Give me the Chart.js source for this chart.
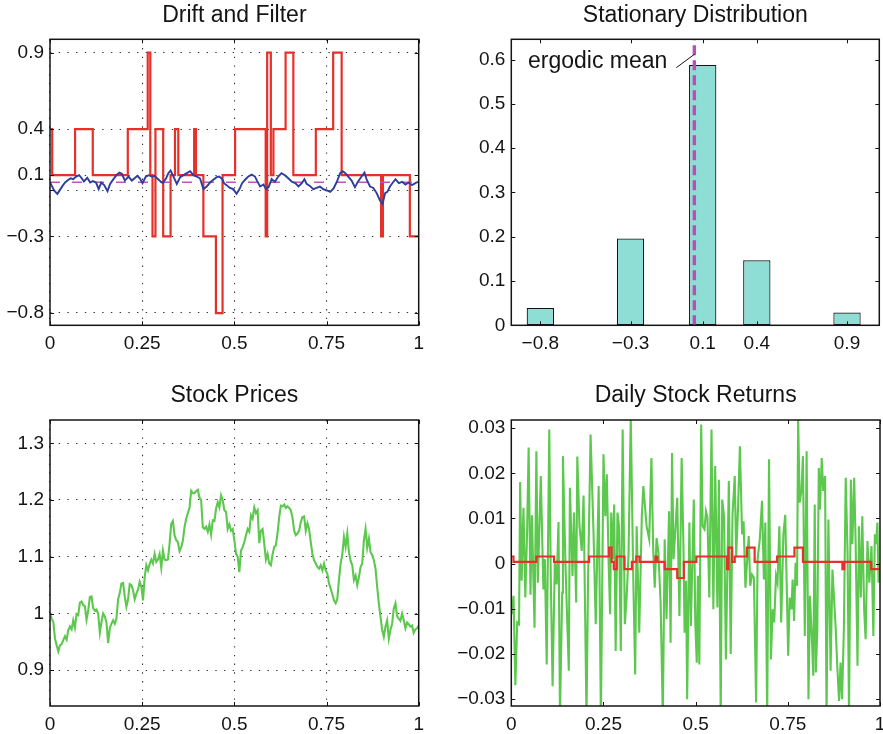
<!DOCTYPE html>
<html>
<head>
<meta charset="utf-8">
<script src="https://cdn.jsdelivr.net/npm/chart.js@4.4.0/dist/chart.umd.min.js"></script>
<style>
  html, body { margin: 0; padding: 0; background: #fff; }
  #fig { position: relative; width: 883px; height: 734px; overflow: hidden; background: #fff; }
  #fig canvas { position: absolute; }
</style>
</head>
<body>
<div id="fig">
  <canvas id="cDrift" width="440" height="367" style="left:0px;top:0px"></canvas>
  <canvas id="cDist" width="443" height="367" style="left:440px;top:0px"></canvas>
  <canvas id="cPrice" width="440" height="367" style="left:0px;top:367px"></canvas>
  <canvas id="cRet" width="443" height="367" style="left:440px;top:367px"></canvas>
</div>
<script>
// ---- Markov-switching drift: states and stationary probabilities ----
const driftStates = [-0.8, -0.3, 0.1, 0.4, 0.9];
const stationaryProb = [0.039, 0.196, 0.588, 0.147, 0.029];

// Regime path: time of each switch and the drift held from that time on
const driftTimes  = [0, 0.006, 0.068, 0.116, 0.211, 0.265, 0.272, 0.278, 0.286, 0.307, 0.327, 0.339, 0.348, 0.391, 0.396, 0.416, 0.450, 0.468, 0.502, 0.585, 0.589, 0.599, 0.606, 0.639, 0.660, 0.721, 0.768, 0.791, 0.898, 0.903, 0.976, 1];
const driftValues = [0.4, 0.1, 0.4, 0.1, 0.4, 0.9, 0.1, -0.3, 0.4, -0.3, 0.1, 0.4, 0.1, 0.4, 0.1, -0.3, -0.8, 0.1, 0.4, -0.3, 0.9, 0.1, 0.4, 0.9, 0.1, 0.4, 0.9, 0.1, -0.3, 0.1, -0.3, -0.3];

// Filtered drift estimate
const filterTimes = [0, 0.005, 0.011, 0.020, 0.027, 0.034, 0.041, 0.050, 0.056, 0.063,
  0.071, 0.079, 0.086, 0.092, 0.101, 0.109, 0.116, 0.125, 0.132, 0.139,
  0.147, 0.156, 0.163, 0.172, 0.181, 0.188, 0.195, 0.203, 0.213, 0.222,
  0.231, 0.237, 0.244, 0.251, 0.260, 0.268, 0.276, 0.283, 0.289, 0.297,
  0.306, 0.315, 0.321, 0.327, 0.335, 0.344, 0.353, 0.362, 0.371, 0.380,
  0.389, 0.398, 0.407, 0.416, 0.425, 0.434, 0.443, 0.452, 0.459, 0.467,
  0.472, 0.479, 0.488, 0.497, 0.506, 0.514, 0.521, 0.529, 0.538, 0.547,
  0.556, 0.562, 0.570, 0.579, 0.586, 0.593, 0.601, 0.610, 0.619, 0.628,
  0.637, 0.647, 0.656, 0.665, 0.674, 0.683, 0.690, 0.696, 0.705, 0.714,
  0.723, 0.732, 0.741, 0.751, 0.760, 0.769, 0.778, 0.787, 0.794, 0.801,
  0.809, 0.818, 0.827, 0.836, 0.845, 0.853, 0.859, 0.868, 0.877, 0.886,
  0.895, 0.902, 0.909, 0.915, 0.922, 0.930, 0.937, 0.946, 0.955, 0.964,
  0.973, 0.982, 0.991, 0.998];
const filterValues = [0.052, 0.030, 0.000, -0.022, 0.004, 0.030, 0.052, 0.070, 0.080, 0.074,
  0.091, 0.100, 0.080, 0.059, 0.083, 0.052, 0.061, 0.052, 0.009, 0.052,
  0.035, -0.004, 0.043, 0.074, 0.102, 0.117, 0.109, 0.065, 0.091, 0.065,
  0.083, 0.096, 0.078, 0.048, 0.091, 0.100, 0.091, 0.096, 0.083, 0.065,
  0.048, 0.080, 0.113, 0.130, 0.091, 0.043, 0.087, 0.100, 0.113, 0.126,
  0.100, 0.091, 0.078, 0.009, 0.026, 0.052, 0.070, 0.087, 0.091, 0.074,
  0.048, 0.035, 0.017, 0.009, -0.022, 0.009, 0.048, 0.070, 0.091, 0.104,
  0.091, 0.061, 0.026, 0.039, 0.009, 0.022, 0.074, 0.057, 0.091, 0.113,
  0.100, 0.078, 0.057, 0.048, 0.026, 0.048, 0.074, 0.043, 0.030, 0.009,
  0.017, 0.026, 0.009, 0.000, -0.009, 0.013, 0.057, 0.113, 0.126, 0.113,
  0.091, 0.065, 0.022, 0.061, 0.091, 0.117, 0.070, 0.026, 0.017, -0.017,
  -0.065, -0.087, -0.017, -0.009, 0.026, 0.052, 0.074, 0.048, 0.057, 0.039,
  0.052, 0.035, 0.048, 0.057];

// Stock price path (equally spaced in time over [0, 1])
const stockPrices = [1.000, 0.991, 0.985, 0.956, 0.944, 0.933, 0.944, 0.946, 0.953, 0.960,
  0.954, 0.971, 0.977, 0.972, 0.988, 0.975, 0.999, 0.997, 1.019, 1.021,
  1.015, 1.013, 0.989, 1.005, 1.029, 1.030, 1.009, 1.005, 1.007, 1.000,
  0.966, 0.985, 1.000, 0.995, 0.984, 0.948, 0.974, 0.982, 0.988, 0.982,
  0.991, 1.025, 1.036, 1.053, 1.054, 1.030, 1.012, 1.025, 1.052, 1.050,
  1.041, 1.025, 1.035, 1.042, 1.056, 1.047, 1.023, 1.064, 1.085, 1.076,
  1.087, 1.095, 1.088, 1.105, 1.091, 1.095, 1.105, 1.081, 1.111, 1.095,
  1.094, 1.095, 1.123, 1.158, 1.163, 1.138, 1.129, 1.126, 1.110, 1.117,
  1.128, 1.152, 1.167, 1.177, 1.186, 1.216, 1.212, 1.212, 1.216, 1.218,
  1.204, 1.200, 1.152, 1.149, 1.153, 1.144, 1.157, 1.139, 1.164, 1.163,
  1.185, 1.196, 1.187, 1.208, 1.199, 1.182, 1.179, 1.149, 1.157, 1.146,
  1.149, 1.129, 1.105, 1.100, 1.073, 1.111, 1.117, 1.126, 1.138, 1.149,
  1.144, 1.173, 1.167, 1.187, 1.177, 1.182, 1.124, 1.146, 1.149, 1.123,
  1.095, 1.105, 1.088, 1.085, 1.104, 1.117, 1.120, 1.141, 1.170, 1.190,
  1.189, 1.192, 1.186, 1.189, 1.186, 1.182, 1.169, 1.146, 1.138, 1.141,
  1.146, 1.161, 1.170, 1.171, 1.146, 1.159, 1.149, 1.126, 1.105, 1.094,
  1.088, 1.082, 1.079, 1.085, 1.076, 1.088, 1.076, 1.070, 1.053, 1.044,
  1.034, 1.023, 1.018, 1.026, 1.060, 1.088, 1.104, 1.135, 1.118, 1.141,
  1.108, 1.093, 1.085, 1.059, 1.067, 1.050, 1.064, 1.082, 1.088, 1.129,
  1.149, 1.116, 1.132, 1.108, 1.103, 1.094, 1.079, 1.047, 1.018, 0.994,
  0.971, 0.959, 0.977, 0.988, 0.956, 0.971, 0.982, 1.009, 1.018, 0.995,
  0.991, 0.987, 1.000, 0.988, 0.974, 0.984, 0.981, 0.977, 0.979, 0.966,
  0.972, 0.974, 0.979];

// Daily returns
const returnTimes = [0.002, 0.006, 0.011, 0.016, 0.021, 0.024, 0.028, 0.033, 0.038, 0.043,
  0.047, 0.052, 0.056, 0.063, 0.068, 0.072, 0.080, 0.087, 0.091, 0.096,
  0.103, 0.107, 0.112, 0.118, 0.123, 0.128, 0.132, 0.138, 0.140, 0.147,
  0.156, 0.159, 0.166, 0.170, 0.176, 0.179, 0.185, 0.191, 0.196, 0.204,
  0.208, 0.215, 0.223, 0.229, 0.237, 0.243, 0.250, 0.255, 0.259, 0.264,
  0.268, 0.271, 0.275, 0.279, 0.283, 0.288, 0.292, 0.297, 0.302, 0.308,
  0.313, 0.318, 0.324, 0.331, 0.336, 0.340, 0.347, 0.354, 0.358, 0.367,
  0.374, 0.380, 0.385, 0.389, 0.394, 0.399, 0.405, 0.411, 0.416, 0.421,
  0.428, 0.432, 0.436, 0.440, 0.445, 0.450, 0.456, 0.462, 0.467, 0.470,
  0.474, 0.477, 0.483, 0.487, 0.495, 0.499, 0.503, 0.506, 0.510, 0.515,
  0.519, 0.524, 0.528, 0.532, 0.537, 0.543, 0.548, 0.553, 0.559, 0.563,
  0.568, 0.572, 0.577, 0.582, 0.590, 0.595, 0.600, 0.606, 0.610, 0.615,
  0.620, 0.626, 0.630, 0.635, 0.639, 0.644, 0.648, 0.653, 0.658, 0.664,
  0.668, 0.674, 0.680, 0.685, 0.689, 0.694, 0.699, 0.704, 0.709, 0.713,
  0.718, 0.722, 0.727, 0.732, 0.738, 0.743, 0.751, 0.755, 0.760, 0.763,
  0.767, 0.771, 0.775, 0.778, 0.782, 0.787, 0.791, 0.796, 0.801, 0.806,
  0.810, 0.816, 0.819, 0.823, 0.826, 0.830, 0.834, 0.837, 0.842, 0.846,
  0.851, 0.855, 0.860, 0.866, 0.871, 0.880, 0.884, 0.889, 0.893, 0.897,
  0.902, 0.907, 0.912, 0.916, 0.921, 0.925, 0.930, 0.934, 0.939, 0.943,
  0.948, 0.952, 0.957, 0.961, 0.966, 0.971, 0.977, 0.982, 0.986, 0.989,
  0.993, 0.996, 1.000];
const returnValues = [-0.0112, -0.0071, -0.0269, -0.0130, -0.0134, 0.0181, -0.0038, 0.0124, -0.0075, 0.0076,
  0.0257, -0.0069, 0.0107, -0.0142, 0.0249, -0.0042, 0.0194, -0.0057, 0.0010, -0.0223,
  0.0297, -0.0027, -0.0271, 0.0002, -0.0046, 0.0092, -0.0340, -0.0064, 0.0238, -0.0005,
  -0.0237, 0.0168, -0.0027, 0.0113, -0.0086, 0.0237, 0.0083, 0.0028, 0.0151, -0.0340,
  -0.0046, 0.0286, 0.0069, -0.0134, 0.0172, -0.0350, 0.0242, 0.0105, 0.0198, 0.0002,
  -0.0112, 0.0113, 0.0010, 0.0131, -0.0193, 0.0113, 0.0083, -0.0193, 0.0297, -0.0134,
  -0.0071, 0.0021, 0.0325, -0.0042, -0.0245, 0.0083, -0.0153, 0.0105, 0.0172, 0.0083,
  0.0054, 0.0234, 0.0028, -0.0053, 0.0057, 0.0024, -0.0086, -0.0340, 0.0054, -0.0123,
  0.0116, -0.0175, 0.0245, 0.0010, 0.0076, 0.0146, -0.0116, 0.0234, 0.0035, -0.0153,
  -0.0038, -0.0300, 0.0091, -0.0138, 0.0142, -0.0130, -0.0219, -0.0027, -0.0223, 0.0308,
  0.0083, 0.0076, 0.0116, 0.0102, -0.0075, 0.0297, -0.0101, 0.0216, -0.0097, 0.0186,
  -0.0340, 0.0142, 0.0105, -0.0212, 0.0183, -0.0200, 0.0109, 0.0194, 0.0017, 0.0124,
  0.0260, 0.0065, 0.0094, -0.0053, -0.0001, 0.0061, -0.0049, -0.0024, -0.0031, -0.0307,
  0.0010, 0.0054, 0.0139, -0.0035, 0.0091, -0.0340, 0.0231, -0.0212, -0.0101, -0.0130,
  -0.0027, -0.0042, 0.0083, -0.0130, 0.0065, 0.0108, -0.0204, -0.0075, -0.0101, -0.0035,
  -0.0127, 0.0002, -0.0049, 0.0325, 0.0135, 0.0161, 0.0238, -0.0160, 0.0249, -0.0300,
  -0.0071, -0.0182, -0.0248, 0.0131, -0.0241, -0.0145, 0.0212, 0.0120, 0.0234, 0.0161,
  0.0194, -0.0340, 0.0098, -0.0237, -0.0013, -0.0145, -0.0226, -0.0304, -0.0219, -0.0300,
  -0.0145, 0.0190, 0.0024, -0.0340, 0.0186, 0.0043, 0.0190, 0.0043, -0.0226, 0.0083,
  -0.0075, 0.0105, -0.0101, -0.0167, 0.0050, -0.0042, 0.0039, -0.0160, 0.0065, 0.0043,
  0.0091, -0.0042, 0.0002];

const tradingDays = 252;

// Axis ticks
const timeTicks = [0, 0.25, 0.5, 0.75, 1];
const driftTicks = [-0.8, -0.3, 0, 0.1, 0.4, 0.9];
const probTicks = [0, 0.1, 0.2, 0.3, 0.4, 0.5, 0.6];
const priceTicks = [0.9, 1, 1.1, 1.2, 1.3];
const returnTicks = [-0.03, -0.02, -0.01, 0, 0.01, 0.02, 0.03];

// ---- styling ----
const FONT = "'Liberation Sans', Arial, Helvetica, sans-serif";
const INK = '#141414';
const RED = '#e6312a';
const BLUE = '#2c3f9d';
const GREEN = '#5cc84e';
const MAGENTA = '#c352bf';
const TEAL = '#8fded6';
const TITLE_SIZE = 23;

Chart.defaults.font.family = FONT;
Chart.defaults.color = INK;

const ergodicMean = driftStates.reduce((s, v, i) => s + v * stationaryProb[i], 0);

function fmt(v) {
  if (Math.abs(v) < 1e-12) return '0';
  return String(Number(v.toFixed(4))).replace('-', '\u2212');
}

function xy(xs, ys) { return xs.map((x, i) => ({ x: x, y: ys[i] })); }

// Axes box with inward tick marks on all four sides
const framePlugin = {
  id: 'frame',
  afterDatasetsDraw(chart) {
    const { ctx, chartArea: a, scales } = chart;
    const x = scales.x, y = scales.y;
    const L = 4;
    ctx.save();
    ctx.setLineDash([]);
    ctx.strokeStyle = INK;
    ctx.lineWidth = 1;
    ctx.beginPath();
    x.ticks.forEach(t => {
      const p = Math.round(x.getPixelForValue(t.value)) + 0.5;
      ctx.moveTo(p, a.bottom); ctx.lineTo(p, a.bottom - L);
      ctx.moveTo(p, a.top); ctx.lineTo(p, a.top + L);
    });
    y.ticks.forEach(t => {
      const p = Math.round(y.getPixelForValue(t.value)) + 0.5;
      ctx.moveTo(a.left, p); ctx.lineTo(a.left + L, p);
      ctx.moveTo(a.right, p); ctx.lineTo(a.right - L, p);
    });
    ctx.stroke();
    ctx.lineWidth = 1.5;
    ctx.strokeRect(a.left, a.top, a.right - a.left, a.bottom - a.top);
    ctx.restore();
  }
};

function axis(opts) {
  return {
    type: 'linear',
    min: opts.min, max: opts.max,
    offset: false,
    afterBuildTicks: s => { s.ticks = opts.ticks.map(v => ({ value: v })); },
    afterFit: s => {
      if (opts.width !== undefined) s.width = opts.width;
      if (opts.height !== undefined) s.height = opts.height;
      s.paddingLeft = 0; s.paddingRight = 0; s.paddingTop = 0; s.paddingBottom = 0;
    },
    ticks: {
      autoSkip: false, maxRotation: 0, minRotation: 0,
      padding: opts.padding, color: INK,
      font: { family: FONT, size: 19 },
      callback: opts.label || (v => fmt(v))
    },
    grid: {
      display: !!opts.grid, drawTicks: false, drawOnChartArea: true,
      color: 'rgba(0,0,0,0.8)', lineWidth: 1.1, borderDash: [1.4, 7.3]
    },
    border: { display: false, dash: [1.4, 7.3] }
  };
}

function title(text, top, bottom) {
  return {
    display: true, text: text, fullSize: false, color: INK,
    font: { family: FONT, size: TITLE_SIZE, weight: 'normal', lineHeight: 1.2 },
    padding: { top: top, bottom: bottom }
  };
}

function baseOptions(t, scales, padRight) {
  return {
    responsive: false, animation: false, devicePixelRatio: 1, events: [],
    layout: { padding: { left: 0, right: padRight, top: 0, bottom: 0 } },
    plugins: { legend: { display: false }, tooltip: { enabled: false }, title: t },
    scales: scales
  };
}

// ---- Drift and Filter ----
new Chart(document.getElementById('cDrift'), {
  type: 'line',
  data: {
    datasets: [
      { data: xy(filterTimes, filterValues), borderColor: BLUE, borderWidth: 1.9, pointRadius: 0, tension: 0 },
      { data: xy([0, 1], [ergodicMean, ergodicMean]), borderColor: MAGENTA, borderWidth: 1.6, borderDash: [10, 12], pointRadius: 0 },
      { data: xy(driftTimes, driftValues), borderColor: RED, borderWidth: 2.2, pointRadius: 0, stepped: true }
    ]
  },
  options: baseOptions(title('Drift and Filter', 2.2, 9.5), {
    x: axis({ min: 0, max: 1, ticks: timeTicks, grid: true, height: 41.7, padding: 7 }),
    y: axis({ min: -0.88, max: 0.987, ticks: driftTicks, grid: true, width: 50, padding: 6,
              label: v => (v === 0 ? '' : fmt(v)) })
  }, 21.3),
  plugins: [framePlugin]
});

// ---- Stationary Distribution ----
const ergodicLabelPlugin = {
  id: 'ergodicLabel',
  afterDatasetsDraw(chart) {
    const { ctx, scales: { x, y } } = chart;
    const xm = x.getPixelForValue(ergodicMean);
    ctx.save();
    ctx.strokeStyle = INK; ctx.lineWidth = 1; ctx.setLineDash([]);
    ctx.beginPath();
    ctx.moveTo(xm - 18, y.getPixelForValue(0.582));
    ctx.lineTo(xm, y.getPixelForValue(0.612));
    ctx.stroke();
    ctx.font = '23px ' + FONT;
    ctx.fillStyle = INK; ctx.textAlign = 'right'; ctx.textBaseline = 'middle';
    ctx.fillText('ergodic mean', xm - 27, y.getPixelForValue(0.595));
    ctx.restore();
  }
};

new Chart(document.getElementById('cDist'), {
  type: 'bar',
  data: {
    datasets: [
      { type: 'line', order: 0, data: xy([ergodicMean, ergodicMean], [0, 0.646]),
        borderColor: '#bb4cb8', borderWidth: 3.4, borderDash: [10, 5], pointRadius: 0 },
      { type: 'bar', order: 1, data: xy(driftStates, stationaryProb),
        backgroundColor: TEAL, borderColor: INK, borderWidth: 1.2, borderSkipped: false,
        categoryPercentage: 1, barPercentage: 0.505 }
    ]
  },
  options: baseOptions(title('Stationary Distribution', 2.2, 9.5), {
    x: axis({ min: -0.961, max: 1.079, ticks: driftStates, grid: false, height: 41.7, padding: 7 }),
    y: axis({ min: 0, max: 0.646, ticks: probTicks, grid: false, width: 71.3, padding: 6 })
  }, 3.7),
  plugins: [framePlugin, ergodicLabelPlugin]
});

// ---- Stock Prices ----
const priceTimes = stockPrices.map((_, i) => i / (stockPrices.length - 1));
new Chart(document.getElementById('cPrice'), {
  type: 'line',
  data: {
    datasets: [
      { data: xy(priceTimes, stockPrices), borderColor: GREEN, borderWidth: 2.1, pointRadius: 0, tension: 0 }
    ]
  },
  options: baseOptions(title('Stock Prices', 15.2, 10.2), {
    x: axis({ min: 0, max: 1, ticks: timeTicks, grid: true, height: 28, padding: 7 }),
    y: axis({ min: 0.837, max: 1.341, ticks: priceTicks, grid: true, width: 50, padding: 6 })
  }, 21.3),
  plugins: [framePlugin]
});

// ---- Daily Stock Returns ----
new Chart(document.getElementById('cRet'), {
  type: 'line',
  data: {
    datasets: [
      { data: xy(driftTimes, driftValues.map(v => v / tradingDays)), borderColor: RED, borderWidth: 2.2, pointRadius: 0, stepped: true },
      { data: xy(returnTimes, returnValues), borderColor: GREEN, borderWidth: 2.1, pointRadius: 0, tension: 0 }
    ]
  },
  options: baseOptions(title('Daily Stock Returns', 15.2, 10.2), {
    x: axis({ min: 0, max: 1, ticks: timeTicks, grid: false, height: 28, padding: 7 }),
    y: axis({ min: -0.0315, max: 0.0318, ticks: returnTicks, grid: false, width: 71.3, padding: 6 })
  }, 3),
  plugins: [framePlugin]
});
</script>
</body>
</html>
